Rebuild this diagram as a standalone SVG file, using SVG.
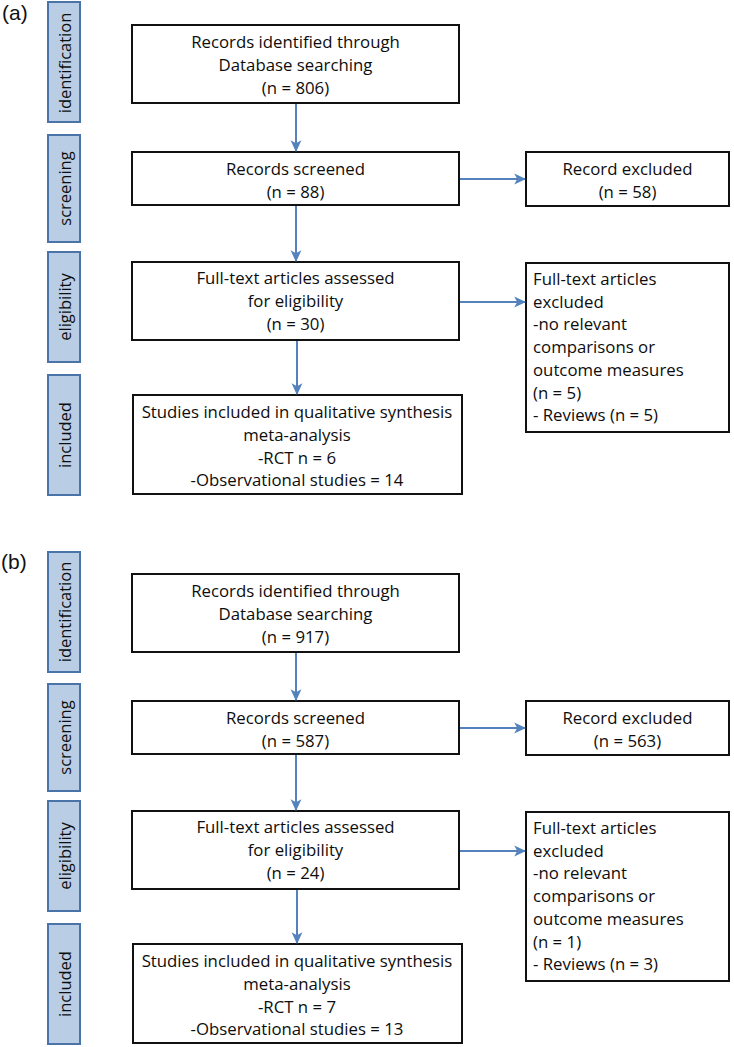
<svg xmlns="http://www.w3.org/2000/svg" width="734" height="1047" viewBox="0 0 734 1047">
<style>
.bg{fill:#ffffff}
.box{fill:#ffffff;stroke:#111111;stroke-width:2}
.bar{fill:#b9cde5;stroke:#4a74a8;stroke-width:2}
.t{font-family:"Open Sans","Liberation Sans",sans-serif;font-size:16.8px;fill:#0d0d0d}
.c{text-anchor:middle}
.side{font-family:"Open Sans","Liberation Sans",sans-serif;font-size:16.5px;fill:#0d0d0d;text-anchor:middle}
.lbl{font-family:"Liberation Sans",Arial,sans-serif;font-size:21px;fill:#111111}
.conn{stroke:#5482bd;stroke-width:2;fill:none}
</style>
<defs>
<marker id="ah" markerUnits="userSpaceOnUse" markerWidth="12" markerHeight="12" viewBox="0 0 10 10" refX="9" refY="5" orient="auto">
<path d="M0,0.5 L10,5 L0,9.5 L2.5,5 z" fill="#5482bd"/>
</marker>
</defs>
<rect class="bg" x="0" y="0" width="734" height="1047"/>

<!-- Panel (a) -->
<text class="lbl" x="2" y="20">(a)</text>

<g id="a-bar-identification"><rect class="bar" x="48" y="2" width="32" height="120"/><text class="side" transform="translate(71,63) rotate(-90)">identification</text></g>
<g id="a-bar-screening"><rect class="bar" x="48" y="135" width="32" height="107"/><text class="side" transform="translate(71,188.5) rotate(-90)">screening</text></g>
<g id="a-bar-eligibility"><rect class="bar" x="48" y="252" width="32" height="110"/><text class="side" transform="translate(71,307) rotate(-90)">eligibility</text></g>
<g id="a-bar-included"><rect class="bar" x="48" y="375" width="32" height="120"/><text class="side" transform="translate(71,435) rotate(-90)">included</text></g>

<g id="a-identified"><rect class="box" x="132" y="25" width="327" height="78"/>
<text class="t c" x="295.5" y="48">Records identified through</text>
<text class="t c" x="295.5" y="71">Database searching</text>
<text class="t c" x="295.5" y="94">(n = 806)</text></g>

<g id="a-screened"><rect class="box" x="132" y="152" width="327" height="53"/>
<text class="t c" x="295.5" y="175">Records screened</text>
<text class="t c" x="295.5" y="198">(n = 88)</text></g>

<g id="a-excluded"><rect class="box" x="526" y="152" width="203" height="54"/>
<text class="t c" x="627.5" y="175">Record excluded</text>
<text class="t c" x="627.5" y="198">(n = 58)</text></g>

<g id="a-eligibility"><rect class="box" x="132" y="262" width="327" height="78"/>
<text class="t c" x="295.5" y="284">Full-text articles assessed</text>
<text class="t c" x="295.5" y="307">for eligibility</text>
<text class="t c" x="295.5" y="330">(n = 30)</text></g>

<g id="a-fulltext-excluded"><rect class="box" x="526" y="263" width="203" height="169"/>
<text class="t" x="533" y="285">Full-text articles</text>
<text class="t" x="533" y="307.7">excluded</text>
<text class="t" x="533" y="330.4">-no relevant</text>
<text class="t" x="533" y="353">comparisons or</text>
<text class="t" x="533" y="375.8">outcome measures</text>
<text class="t" x="533" y="398.5">(n = 5)</text>
<text class="t" x="533" y="421.2">- Reviews (n = 5)</text></g>

<g id="a-included"><rect class="box" x="133" y="395" width="329" height="99"/>
<text class="t c" x="297" y="418">Studies included in qualitative synthesis</text>
<text class="t c" x="297" y="441">meta-analysis</text>
<text class="t c" x="297" y="463.5">-RCT n = 6</text>
<text class="t c" x="297" y="486">-Observational studies = 14</text></g>

<!-- Panel (b) -->
<text class="lbl" x="1" y="569">(b)</text>

<g id="b-bar-identification"><rect class="bar" x="48" y="552" width="32" height="120"/><text class="side" transform="translate(71,612) rotate(-90)">identification</text></g>
<g id="b-bar-screening"><rect class="bar" x="48" y="684" width="32" height="107"/><text class="side" transform="translate(71,737.5) rotate(-90)">screening</text></g>
<g id="b-bar-eligibility"><rect class="bar" x="48" y="801" width="32" height="110"/><text class="side" transform="translate(71,856) rotate(-90)">eligibility</text></g>
<g id="b-bar-included"><rect class="bar" x="48" y="924" width="32" height="120"/><text class="side" transform="translate(71,984) rotate(-90)">included</text></g>

<g id="b-identified"><rect class="box" x="132" y="574" width="327" height="78"/>
<text class="t c" x="295.5" y="597">Records identified through</text>
<text class="t c" x="295.5" y="620">Database searching</text>
<text class="t c" x="295.5" y="643">(n = 917)</text></g>

<g id="b-screened"><rect class="box" x="132" y="701" width="327" height="53"/>
<text class="t c" x="295.5" y="724">Records screened</text>
<text class="t c" x="295.5" y="747">(n = 587)</text></g>

<g id="b-excluded"><rect class="box" x="526" y="701" width="203" height="54"/>
<text class="t c" x="627.5" y="724">Record excluded</text>
<text class="t c" x="627.5" y="747">(n = 563)</text></g>

<g id="b-eligibility"><rect class="box" x="132" y="811" width="327" height="78"/>
<text class="t c" x="295.5" y="833">Full-text articles assessed</text>
<text class="t c" x="295.5" y="856">for eligibility</text>
<text class="t c" x="295.5" y="879">(n = 24)</text></g>

<g id="b-fulltext-excluded"><rect class="box" x="526" y="812" width="203" height="169"/>
<text class="t" x="533" y="834">Full-text articles</text>
<text class="t" x="533" y="856.7">excluded</text>
<text class="t" x="533" y="879.4">-no relevant</text>
<text class="t" x="533" y="902">comparisons or</text>
<text class="t" x="533" y="924.8">outcome measures</text>
<text class="t" x="533" y="947.5">(n = 1)</text>
<text class="t" x="533" y="970.2">- Reviews (n = 3)</text></g>

<g id="b-included"><rect class="box" x="133" y="944" width="329" height="99"/>
<text class="t c" x="297" y="967">Studies included in qualitative synthesis</text>
<text class="t c" x="297" y="990">meta-analysis</text>
<text class="t c" x="297" y="1012.5">-RCT n = 7</text>
<text class="t c" x="297" y="1035">-Observational studies = 13</text></g>

<g id="connectors">
<line class="conn" x1="296" y1="104" x2="296" y2="151" marker-end="url(#ah)"/>
<line class="conn" x1="296" y1="206" x2="296" y2="261" marker-end="url(#ah)"/>
<line class="conn" x1="297" y1="341" x2="297" y2="394" marker-end="url(#ah)"/>
<line class="conn" x1="460" y1="179" x2="525" y2="179" marker-end="url(#ah)"/>
<line class="conn" x1="460" y1="302" x2="525" y2="302" marker-end="url(#ah)"/>
<line class="conn" x1="296" y1="653" x2="296" y2="700" marker-end="url(#ah)"/>
<line class="conn" x1="296" y1="755" x2="296" y2="810" marker-end="url(#ah)"/>
<line class="conn" x1="297" y1="890" x2="297" y2="943" marker-end="url(#ah)"/>
<line class="conn" x1="460" y1="728" x2="525" y2="728" marker-end="url(#ah)"/>
<line class="conn" x1="460" y1="851" x2="525" y2="851" marker-end="url(#ah)"/>
</g>
</svg>
